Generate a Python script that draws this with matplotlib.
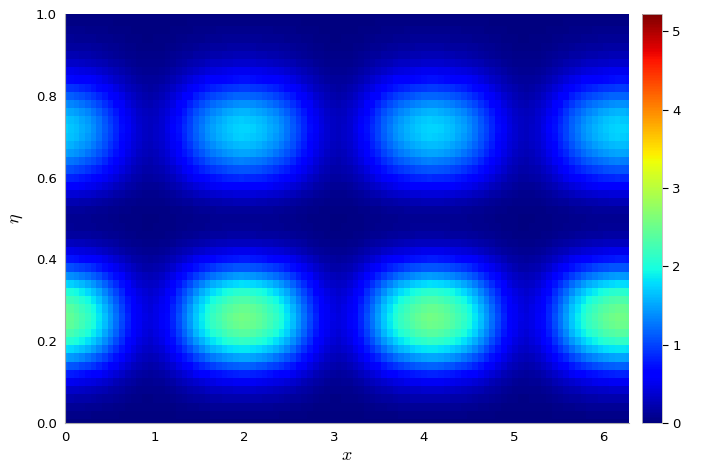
import numpy as np
import matplotlib
matplotlib.use("Agg")
import matplotlib.pyplot as plt

plt.rcParams["mathtext.fontset"] = "cm"

# eta grid (51 rows) and the amplitude profile read at a peak column
eta = np.linspace(0, 1, 51)
eta_profile = [0.00, 0.05, 0.12, 0.22, 0.36, 0.55, 0.82, 1.15, 1.50, 1.85,
               2.15, 2.38, 2.52, 2.55, 2.48, 2.32, 2.10, 1.80, 1.45, 1.10,
               0.78, 0.50, 0.30, 0.17, 0.11, 0.10, 0.14, 0.25, 0.42, 0.63,
               0.86, 1.09, 1.31, 1.50, 1.63, 1.72, 1.75, 1.70, 1.58, 1.40,
               1.18, 0.95, 0.72, 0.52, 0.36, 0.25, 0.17, 0.11, 0.07, 0.04,
               0.02]

# x grid (100 columns over 0..2pi); relative modulation over one period (33 columns)
x = np.linspace(0, 2 * np.pi, 100)
x_period = [0.98, 0.955, 0.925, 0.885, 0.84, 0.785, 0.72, 0.64, 0.56, 0.48,
            0.40, 0.32, 0.26, 0.215, 0.185, 0.17, 0.19, 0.22, 0.27, 0.33,
            0.41, 0.49, 0.57, 0.66, 0.73, 0.795, 0.85, 0.89, 0.93, 0.96,
            0.985, 1.0, 0.995]

x_profile = np.array(x_period * 3 + x_period[:1])
field = np.outer(eta_profile, x_profile)

vmax = 5.22

fig = plt.figure(figsize=(7.14, 4.76), dpi=100)
ax = fig.add_axes([65 / 714, 53 / 476, 564 / 714, 409 / 476])
cax = fig.add_axes([642 / 714, 53 / 476, 20 / 714, 409 / 476])

mesh = ax.pcolormesh(x, eta, field, cmap="jet", vmin=0, vmax=vmax, shading="nearest")
ax.set_xlim(0, 2 * np.pi)
ax.set_ylim(0, 1)
ax.set_xticks([0, 1, 2, 3, 4, 5, 6])
ax.set_yticks([0.0, 0.2, 0.4, 0.6, 0.8, 1.0])
ax.set_yticklabels(["0.0", "0.2", "0.4", "0.6", "0.8", "1.0"])
ax.tick_params(length=0, labelsize=9.5, pad=6)
for s in ["top", "right"]:
    ax.spines[s].set_visible(False)
for s in ["left", "bottom"]:
    ax.spines[s].set_color("#aaaaaa")
ax.set_xlabel("$x$", fontsize=13, labelpad=1)
ax.set_ylabel("$\\eta$", fontsize=13, labelpad=8)

cb = fig.colorbar(mesh, cax=cax)
cb.set_ticks([0, 1, 2, 3, 4, 5])
cb.outline.set_edgecolor("#bbbbbb")
cb.outline.set_linewidth(0.6)
cax.tick_params(labelsize=9.5, length=4, width=0.8, direction="out")

fig.savefig("out.png", dpi=100)
